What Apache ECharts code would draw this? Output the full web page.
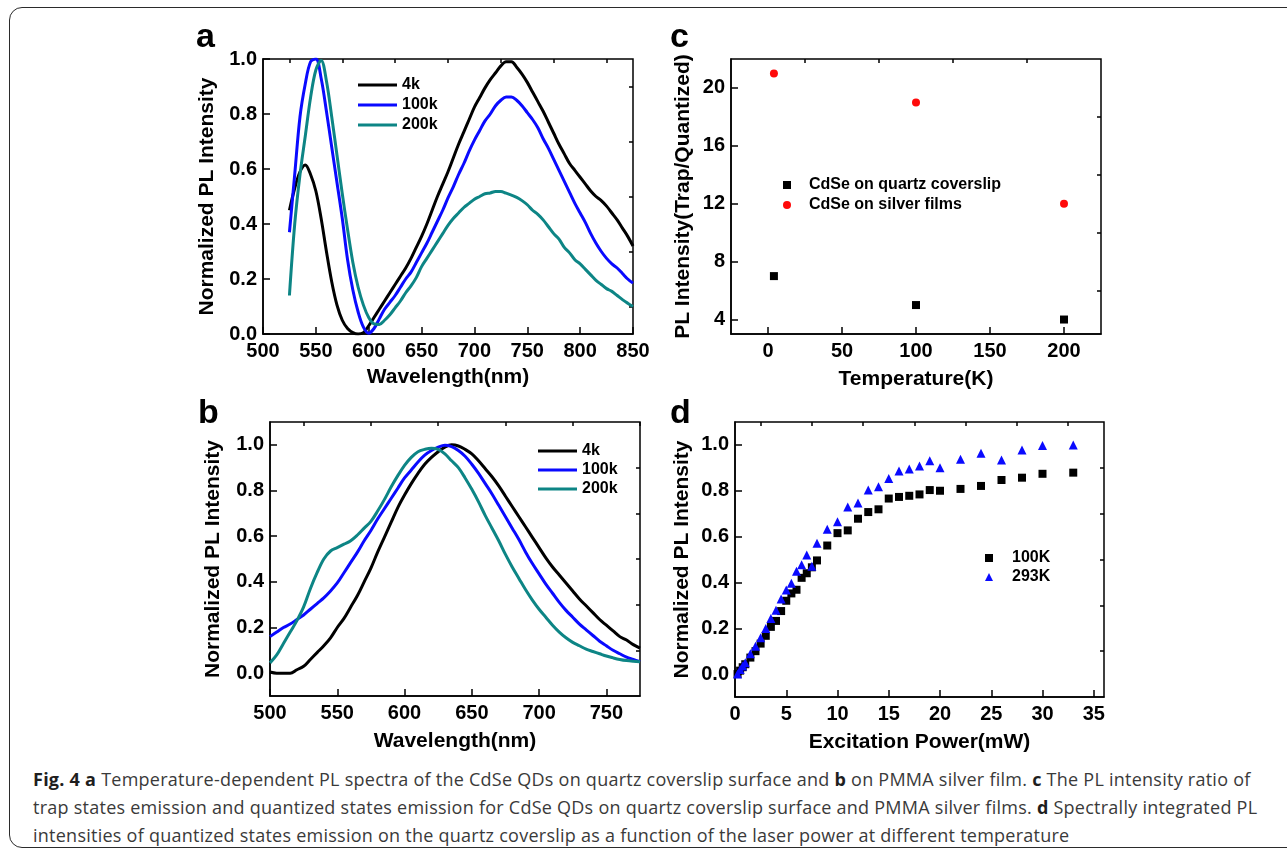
<!DOCTYPE html>
<html>
<head>
<meta charset="utf-8">
<title>Fig. 4 - CdSe QDs PL</title>
<script src="https://cdn.jsdelivr.net/npm/echarts@6/dist/echarts.min.js"></script>
<style>
  html, body { margin: 0; padding: 0; background: #fff; }
  body { width: 1287px; height: 849px; overflow: hidden; position: relative; }
  #frame { position: absolute; left: 9px; top: 7px; width: 1310px; height: 841px; border: 1.5px solid #2b2b2b; border-radius: 13px; box-sizing: border-box; }
  #chart { position: absolute; left: 0; top: 0; width: 1287px; height: 765px; }
  #caption { position: absolute; left: 33px; top: 765px; font-family: 'Open Sans', sans-serif; font-size: 18px; letter-spacing: 0.25px; line-height: 28px; color: #3a3a3a; white-space: nowrap; }
  #caption b { color: #1e1e1e; }
</style>
</head>
<body>
<div id="frame"></div>
<div id="chart"></div>
<div id="caption">
  <div><b>Fig. 4 a</b> Temperature-dependent PL spectra of the CdSe QDs on quartz coverslip surface and <b>b</b> on PMMA silver film. <b>c</b> The PL intensity ratio of</div>
  <div>trap states emission and quantized states emission for CdSe QDs on quartz coverslip surface and PMMA silver films. <b>d</b> Spectrally integrated PL</div>
  <div>intensities of quantized states emission on the quartz coverslip as a function of the laser power at different temperature</div>
</div>
<script>
// ---- panel a : PL on quartz coverslip (5 nm steps) ----
const wlA = [525, 530, 535, 540, 545, 550, 555, 560, 565, 570, 575, 580, 585, 590, 595, 600, 605, 610, 615, 620,
  625, 630, 635, 640, 645, 650, 655, 660, 665, 670, 675, 680, 685, 690, 695, 700, 705, 710, 715, 720,
  725, 730, 735, 740, 745, 750, 755, 760, 765, 770, 775, 780, 785, 790, 795, 800, 805, 810, 815, 820,
  825, 830, 835, 840, 845, 850]
const a4k = [0.45, 0.53, 0.59, 0.615, 0.58, 0.52, 0.42, 0.30, 0.19, 0.105, 0.05, 0.02, 0.005, 0.0, 0.005, 0.03, 0.06, 0.09, 0.12, 0.15,
  0.18, 0.21, 0.24, 0.275, 0.315, 0.355, 0.40, 0.45, 0.50, 0.545, 0.59, 0.64, 0.69, 0.735, 0.78, 0.825, 0.86, 0.895, 0.925, 0.95,
  0.975, 0.99, 0.99, 0.97, 0.945, 0.915, 0.88, 0.845, 0.81, 0.77, 0.73, 0.69, 0.655, 0.62, 0.595, 0.57, 0.545, 0.52, 0.50, 0.485,
  0.465, 0.44, 0.415, 0.385, 0.355, 0.32]
const a100k = [0.37, 0.58, 0.79, 0.91, 0.99, 1.0, 0.93, 0.81, 0.68, 0.55, 0.42, 0.27, 0.16, 0.08, 0.025, 0.003, 0.02, 0.055, 0.09, 0.115,
  0.14, 0.17, 0.20, 0.225, 0.26, 0.295, 0.33, 0.37, 0.41, 0.45, 0.495, 0.535, 0.58, 0.62, 0.665, 0.705, 0.74, 0.775, 0.80, 0.83,
  0.85, 0.862, 0.862, 0.85, 0.83, 0.805, 0.78, 0.75, 0.71, 0.675, 0.635, 0.595, 0.555, 0.515, 0.475, 0.44, 0.405, 0.365, 0.33, 0.30,
  0.275, 0.255, 0.24, 0.22, 0.20, 0.185]
const a200k = [0.14, 0.40, 0.58, 0.72, 0.86, 0.96, 0.995, 0.92, 0.79, 0.65, 0.51, 0.38, 0.26, 0.17, 0.105, 0.06, 0.037, 0.035, 0.05, 0.07,
  0.095, 0.12, 0.15, 0.175, 0.205, 0.245, 0.275, 0.305, 0.335, 0.365, 0.395, 0.42, 0.44, 0.46, 0.475, 0.49, 0.50, 0.51, 0.513, 0.518,
  0.518, 0.512, 0.505, 0.497, 0.485, 0.47, 0.45, 0.435, 0.415, 0.39, 0.365, 0.345, 0.315, 0.295, 0.27, 0.255, 0.235, 0.215, 0.195, 0.18,
  0.165, 0.155, 0.14, 0.125, 0.112, 0.10]

// ---- panel b : PL on PMMA silver film ----
const wlB = [500, 505, 510, 515, 520, 525, 530, 535, 540, 545, 550, 555, 560, 565, 570, 575, 580, 585, 590, 595,
  600, 605, 610, 615, 620, 625, 630, 635, 640, 645, 650, 655, 660, 665, 670, 675, 680, 685, 690, 695,
  700, 705, 710, 715, 720, 725, 730, 735, 740, 745, 750, 755, 760, 765, 770, 775]
const b4k = [0.005, 0.0, 0.0, 0.0, 0.015, 0.03, 0.06, 0.09, 0.12, 0.155, 0.20, 0.24, 0.29, 0.34, 0.40, 0.46, 0.53, 0.595, 0.66, 0.725,
  0.78, 0.83, 0.875, 0.915, 0.945, 0.97, 0.99, 1.0, 0.995, 0.98, 0.96, 0.93, 0.895, 0.86, 0.82, 0.775, 0.73, 0.685, 0.64, 0.595,
  0.55, 0.505, 0.465, 0.43, 0.395, 0.36, 0.325, 0.295, 0.265, 0.235, 0.21, 0.185, 0.16, 0.145, 0.125, 0.11]
const b100k = [0.16, 0.18, 0.20, 0.215, 0.235, 0.255, 0.28, 0.305, 0.33, 0.36, 0.395, 0.44, 0.485, 0.53, 0.58, 0.625, 0.675, 0.72, 0.765, 0.81,
  0.855, 0.89, 0.925, 0.955, 0.975, 0.99, 0.998, 0.992, 0.975, 0.95, 0.915, 0.875, 0.83, 0.785, 0.735, 0.685, 0.635, 0.585, 0.53, 0.48,
  0.435, 0.39, 0.35, 0.31, 0.275, 0.245, 0.215, 0.19, 0.165, 0.14, 0.12, 0.10, 0.085, 0.07, 0.06, 0.05]
const b200k = [0.045, 0.08, 0.13, 0.18, 0.23, 0.29, 0.37, 0.44, 0.50, 0.535, 0.55, 0.565, 0.58, 0.605, 0.635, 0.665, 0.71, 0.76, 0.815, 0.865,
  0.91, 0.945, 0.97, 0.98, 0.985, 0.98, 0.96, 0.93, 0.90, 0.855, 0.805, 0.75, 0.69, 0.635, 0.58, 0.52, 0.465, 0.415, 0.365, 0.32,
  0.28, 0.245, 0.21, 0.18, 0.155, 0.135, 0.12, 0.105, 0.095, 0.085, 0.075, 0.067, 0.06, 0.055, 0.052, 0.05]

// ---- panel c : trap / quantized ratio ----
const tempC = [4, 100, 200]
const ratioQuartz = [7, 5, 4]
const ratioSilver = [21, 19, 12]

// ---- panel d : integrated PL vs excitation power ----
const powerD = [0.25, 0.5, 0.75, 1, 1.5, 2, 2.5, 3, 3.5, 4, 4.5, 5, 5.5, 6, 6.5, 7, 7.5, 8, 9, 10,
  11, 12, 13, 14, 15, 16, 17, 18, 19, 20, 22, 24, 26, 28, 30, 33]
const d100K = [0.0, 0.015, 0.03, 0.043, 0.072, 0.10, 0.133, 0.167, 0.206, 0.232, 0.275, 0.32, 0.352, 0.368, 0.42, 0.44, 0.466, 0.496, 0.561, 0.615,
  0.627, 0.678, 0.707, 0.719, 0.766, 0.773, 0.778, 0.784, 0.803, 0.80, 0.808, 0.821, 0.847, 0.857, 0.874, 0.879]
const d293K = [0.0, 0.02, 0.035, 0.05, 0.089, 0.121, 0.159, 0.199, 0.243, 0.279, 0.328, 0.367, 0.396, 0.449, 0.477, 0.52, 0.471, 0.571, 0.632, 0.665,
  0.729, 0.747, 0.803, 0.817, 0.854, 0.886, 0.895, 0.908, 0.931, 0.90, 0.937, 0.964, 0.934, 0.978, 0.998, 1.0]

// ---- tick values ----
const ticksWlA = [500, 550, 600, 650, 700, 750, 800, 850]
const minorWlA = [525, 575, 625, 675, 725, 775, 825]
const ticksWlB = [500, 550, 600, 650, 700, 750]
const minorWlB = [525, 575, 625, 675, 725, 775]
const ticksNorm = [0, 0.2, 0.4, 0.6, 0.8, 1.0]
const minorNorm = [0.1, 0.3, 0.5, 0.7, 0.9]
const ticksTemp = [0, 50, 100, 150, 200]
const minorTemp = [25, 75, 125, 175]
const ticksRatio = [4, 8, 12, 16, 20]
const minorRatio = [6, 10, 14, 18]
const ticksPower = [0, 5, 10, 15, 20, 25, 30, 35]
const minorPower = [2.5, 7.5, 12.5, 17.5, 22.5, 27.5, 32.5]

const FONT = "'Liberation Sans', Arial, sans-serif"
const BLACK = '#000000'
const BLUE = '#0a0aff'
const TEAL = '#0d8585'
const RED = '#ff0a0a'

const pairs = (xs, ys) => xs.map((x, i) => [x, ys[i]])

// 主轴：刻度标签 + 长刻度
const mainAxis = (grid, min, max, ticks, name, nameGap, decimals, isY) => ({
  gridIndex: grid,
  type: 'value',
  min: min,
  max: max,
  name: name,
  nameLocation: 'middle',
  nameGap: nameGap,
  nameTextStyle: { fontFamily: FONT, fontWeight: 'bold', fontSize: 21, color: '#000' },
  axisLine: { show: true, onZero: false, lineStyle: { color: '#000', width: 1.5 } },
  axisTick: { show: true, inside: true, length: 7, customValues: ticks, lineStyle: { color: '#000', width: 1.5 } },
  minorTick: { show: false },
  splitLine: { show: false },
  axisLabel: {
    customValues: ticks,
    margin: isY ? 6 : 7,
    fontFamily: FONT,
    fontWeight: 'bold',
    fontSize: 20,
    color: '#000',
    formatter: v => Number(v).toFixed(decimals)
  }
})

// 次刻度：叠加一条只画短刻度的轴
const minorAxis = (grid, min, max, minors) => ({
  gridIndex: grid,
  type: 'value',
  min: min,
  max: max,
  axisLine: { show: false, onZero: false },
  axisTick: { show: true, inside: true, length: 4, customValues: minors, lineStyle: { color: '#000', width: 1.5 } },
  axisLabel: { show: false },
  splitLine: { show: false }
})

const legendText = { fontFamily: FONT, fontWeight: 'bold', fontSize: 16, color: '#000' }

const lineSeries = (name, color, xi, yi, xs, ys) => ({
  name: name,
  type: 'line',
  xAxisIndex: xi,
  yAxisIndex: yi,
  data: pairs(xs, ys),
  showSymbol: false,
  symbol: 'none',
  smooth: 0.35,
  lineStyle: { color: color, width: 3 },
  itemStyle: { color: color },
  animation: false
})

const scatterSeries = (name, symbol, size, color, xi, yi, xs, ys) => ({
  name: name,
  type: 'scatter',
  xAxisIndex: xi,
  yAxisIndex: yi,
  symbol: symbol,
  symbolSize: size,
  data: pairs(xs, ys),
  itemStyle: { color: color, opacity: 1 },
  animation: false
})

const chart = echarts.init(document.getElementById('chart'), null, { renderer: 'canvas' })

const gridStyle = { show: true, borderColor: '#000', borderWidth: 1.5, backgroundColor: 'transparent' }

chart.setOption({
  backgroundColor: 'transparent',
  animation: false,
  grid: [
    Object.assign({ left: 263, top: 59, width: 370, height: 275 }, gridStyle),  // a
    Object.assign({ left: 731, top: 59, width: 370, height: 275 }, gridStyle),  // c
    Object.assign({ left: 270, top: 422, width: 370, height: 274 }, gridStyle), // b
    Object.assign({ left: 735, top: 422, width: 369, height: 275 }, gridStyle)  // d
  ],
  xAxis: [
    mainAxis(0, 500, 850, ticksWlA, 'Wavelength(nm)', 33, 0, false),
    mainAxis(1, -25, 225, ticksTemp, 'Temperature(K)', 35, 0, false),
    mainAxis(2, 500, 775, ticksWlB, 'Wavelength(nm)', 35, 0, false),
    mainAxis(3, 0, 36, ticksPower, 'Excitation Power(mW)', 35, 0, false),
    minorAxis(0, 500, 850, minorWlA),
    minorAxis(1, -25, 225, minorTemp),
    minorAxis(2, 500, 775, minorWlB),
    minorAxis(3, 0, 36, minorPower)
  ],
  yAxis: [
    mainAxis(0, 0, 1.0, ticksNorm, 'Normalized PL Intensity', 45, 1, true),
    mainAxis(1, 3, 22, ticksRatio, 'PL Intensity(Trap/Quantized)', 37, 0, true),
    mainAxis(2, -0.1, 1.1, ticksNorm, 'Normalized PL Intensity', 46, 1, true),
    mainAxis(3, -0.1, 1.1, ticksNorm, 'Normalized PL Intensity', 42, 1, true),
    minorAxis(0, 0, 1.0, minorNorm),
    minorAxis(1, 3, 22, minorRatio),
    minorAxis(2, -0.1, 1.1, minorNorm),
    minorAxis(3, -0.1, 1.1, minorNorm)
  ],
  legend: [
    {
      orient: 'vertical', left: 353, top: 72, itemGap: 4,
      icon: 'rect', itemWidth: 39, itemHeight: 3,
      data: ['4k', '100k', '200k'], textStyle: legendText, selectedMode: false
    },
    {
      orient: 'vertical', left: 533, top: 438, itemGap: 3,
      icon: 'rect', itemWidth: 39, itemHeight: 3,
      data: ['4k', '100k', '200k'], textStyle: legendText, selectedMode: false
    },
    {
      orient: 'vertical', left: 778, top: 172, itemGap: 4,
      itemWidth: 8, itemHeight: 8,
      data: ['CdSe on quartz coverslip', 'CdSe on silver films'],
      textStyle: Object.assign({ padding: [0, 0, 0, 13] }, legendText), selectedMode: false
    },
    {
      orient: 'vertical', left: 980, top: 545, itemGap: 3,
      itemWidth: 8, itemHeight: 8,
      data: ['100K', '293K'],
      textStyle: Object.assign({ padding: [0, 0, 0, 14] }, legendText), selectedMode: false
    }
  ],
  graphic: [
    { type: 'text', left: 196, top: 21, style: { text: 'a', font: 'bold 34px ' + FONT, fill: '#000' } },
    { type: 'text', left: 670, top: 21, style: { text: 'c', font: 'bold 34px ' + FONT, fill: '#000' } },
    { type: 'text', left: 198, top: 397, style: { text: 'b', font: 'bold 34px ' + FONT, fill: '#000' } },
    { type: 'text', left: 670, top: 397, style: { text: 'd', font: 'bold 34px ' + FONT, fill: '#000' } }
  ],
  series: [
    // a
    lineSeries('4k', BLACK, 0, 0, wlA, a4k),
    lineSeries('100k', BLUE, 0, 0, wlA, a100k),
    lineSeries('200k', TEAL, 0, 0, wlA, a200k),
    // c
    scatterSeries('CdSe on quartz coverslip', 'rect', 8, BLACK, 1, 1, tempC, ratioQuartz),
    scatterSeries('CdSe on silver films', 'circle', 8, RED, 1, 1, tempC, ratioSilver),
    // b
    lineSeries('4k', BLACK, 2, 2, wlB, b4k),
    lineSeries('100k', BLUE, 2, 2, wlB, b100k),
    lineSeries('200k', TEAL, 2, 2, wlB, b200k),
    // d
    scatterSeries('100K', 'rect', 8, BLACK, 3, 3, powerD, d100K),
    scatterSeries('293K', 'triangle', 9, BLUE, 3, 3, powerD, d293K)
  ]
})
</script>
</body>
</html>
